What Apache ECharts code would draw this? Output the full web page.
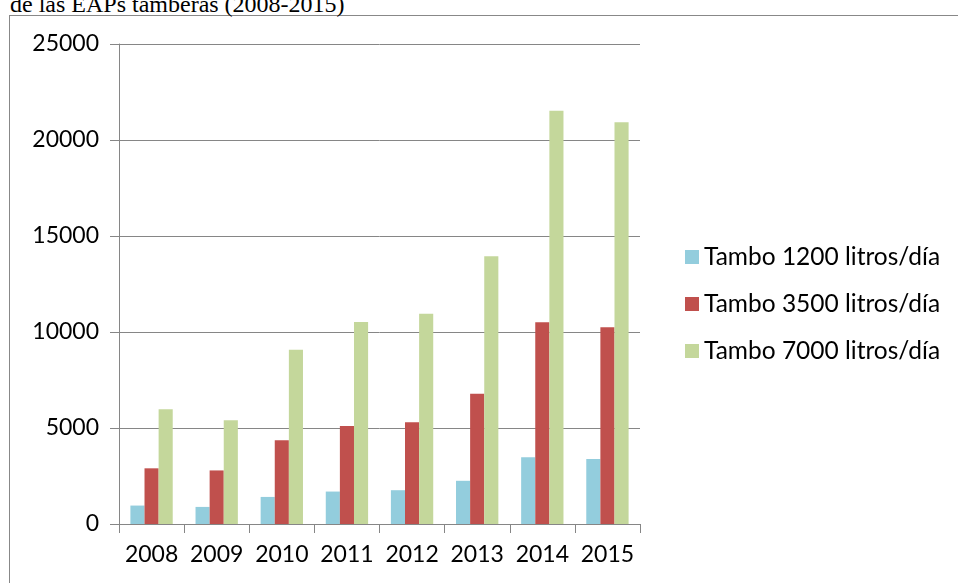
<!DOCTYPE html>
<html>
<head>
<meta charset="utf-8">
<script src="https://cdn.jsdelivr.net/npm/echarts@6/dist/echarts.min.js"></script>
<style>
html,body{margin:0;padding:0;background:#fff;overflow:hidden;}
#frame{position:absolute;left:9px;top:15px;width:1100px;height:800px;border:1px solid #888;box-sizing:border-box;}
#title{position:absolute;left:10px;top:-11px;font-family:"Liberation Serif","Times New Roman",serif;font-size:24px;color:#000;white-space:nowrap;line-height:30px;}
#chart{position:absolute;left:0;top:0;width:958px;height:583px;}
</style>
</head>
<body>
<div id="frame"></div>
<div id="title">de las EAPs tamberas (2008-2015)</div>
<div id="chart"></div>
<script>
const categories = ['2008','2009','2010','2011','2012','2013','2014','2015'];
const seriesNames = ['Tambo 1200 litros/día','Tambo 3500 litros/día','Tambo 7000 litros/día'];
const tambo1200 = [960, 890, 1410, 1690, 1760, 2250, 3480, 3390];
const tambo3500 = [2900, 2790, 4360, 5100, 5300, 6780, 10510, 10250];
const tambo7000 = [5980, 5400, 9070, 10520, 10950, 13950, 21520, 20930];
const yTicks = [0, 5000, 10000, 15000, 20000, 25000];
const colors = ['#93CDDD','#C0504D','#C4D79B'];

const chart = echarts.init(document.getElementById('chart'), null, {renderer:'canvas'});
const axisGray = '#868686';
const font = 'Lato, "Open Sans", sans-serif';
chart.setOption({
  backgroundColor: 'transparent',
  animation: false,
  color: colors,
  grid: {left: 119, right: 318, top: 44, bottom: 59, containLabel: false},
  legend: {
    orient: 'vertical', left: 680, top: 239, itemGap: 21,
    itemWidth: 14, itemHeight: 14, icon: 'rect',
    textStyle: {fontFamily: font, fontSize: 24.5, lineHeight: 26, color: '#000', padding:[0,0,0,0]},
    data: seriesNames
  },
  xAxis: {
    type: 'category', data: categories,
    axisLine: {lineStyle: {color: axisGray, width: 1}},
    axisTick: {show: true, length: 9, interval: 0, alignWithLabel: false, lineStyle: {color: axisGray}},
    axisLabel: {fontFamily: font, fontSize: 23, color: '#000', margin: 19, interval: 0}
  },
  yAxis: {
    type: 'value', min: yTicks[0], max: yTicks[yTicks.length-1], interval: 5000,
    axisLine: {show: true, lineStyle: {color: axisGray, width: 1}},
    axisTick: {show: true, length: 9, lineStyle: {color: axisGray}},
    splitLine: {lineStyle: {color: axisGray, width: 1}},
    axisLabel: {fontFamily: font, fontSize: 23, color: '#000', margin: 20, formatter: v => String(v)}
  },
  series: [
    {name: seriesNames[0], type: 'bar', data: tambo1200, barGap: '0%', barCategoryGap: '35%'},
    {name: seriesNames[1], type: 'bar', data: tambo3500, barGap: '0%', barCategoryGap: '35%'},
    {name: seriesNames[2], type: 'bar', data: tambo7000, barGap: '0%', barCategoryGap: '35%'}
  ]
});
</script>
</body>
</html>
